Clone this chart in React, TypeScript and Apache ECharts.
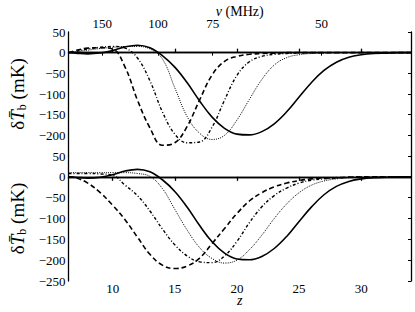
import React, { useEffect, useRef } from "react";
import * as echarts from "echarts";

// redshift sample points
const zGrid = [6.45, 7, 8, 9, 10, 11, 12, 13, 14, 15, 16, 17, 18, 19, 20, 21, 22, 23, 24, 25, 26, 27, 28, 29, 30, 31, 32, 33, 34];

// fiducial model (solid, both panels)
const solidVals = [0, -1, -3, -1, 5, 14, 18, 12, -7, -35, -73, -117, -156, -183, -197, -199, -191, -172, -143, -107, -72, -43, -23, -11, -5, -2, -1, 0, 0];

// top panel
const topDashed = [0, 5, 11, 12, 9, -35, -115, -182, -224, -218, -178, -114, -54, -21, -9, -4, -2, -1, 0, 0, 0, 0, 0, 0, 0, 0, 0, 0, 0];
const topDashDot = [0, 3, 9, 13, 15, 11, -13, -68, -143, -197, -218, -216, -180, -115, -55, -22, -9, -4, -2, -1, 0, 0, 0, 0, 0, 0, 0, 0, 0];
const topDotted = [0, 2, 6, 10, 13, 15, 15, 9, -15, -85, -155, -195, -210, -200, -163, -113, -65, -30, -12, -5, -2, -1, 0, 0, 0, 0, 0, 0, 0];

// bottom panel
const botDashed = [0, -2, -15, -38, -68, -103, -145, -186, -212, -220, -214, -195, -160, -124, -88, -58, -38, -24, -15, -9, -5, -3, -2, -1, 0, 0, 0, 0, 0];
const botDashDot = [8, 8, 8, 7, 4, -20, -45, -82, -125, -163, -190, -204, -206, -190, -155, -110, -72, -45, -27, -15, -8, -5, -3, -1, 0, 0, 0, 0, 0];
const botDotted = [10, 10, 10, 10, 10, 10, 8, 1, -28, -78, -128, -170, -196, -207, -200, -175, -140, -100, -65, -38, -20, -10, -5, -2, -1, 0, 0, 0, 0];

// axis ticks
const zTicks = [10, 15, 20, 25, 30];
const nuTicks = [150, 100, 75, 50];
const nuTickZ = [9.16, 13.65, 18.05, 26.8];
const zMin = 6.45;
const zMax = 34;

const FONT = "'Liberation Serif', 'Times New Roman', serif";

const pairs = (vals: number[]) => zGrid.map((z, i) => [z, vals[i]]);
const minus = (v: number) => String(v).replace("-", "\u2212");

export default function App() {
  const ref = useRef<HTMLDivElement>(null);
  useEffect(() => {
    const chart = echarts.init(ref.current!, null, { renderer: "svg" });
    const axLine = { show: true, lineStyle: { color: "#000", width: 1.3 } };
    const yName = "{g|\u03b4}{i|T\u0304}{s|b}{g| (mK)}";
    const yNameStyle = {
      fontFamily: FONT,
      fontSize: 19,
      color: "#000",
      rich: {
        g: { fontFamily: FONT, fontSize: 19, color: "#000" },
        i: { fontFamily: FONT, fontSize: 19, fontStyle: "italic", color: "#000" },
        s: { fontFamily: FONT, fontSize: 12, color: "#000", verticalAlign: "bottom", padding: [8, 0, 0, 0] },
      },
    };
    const mkY = (grid: number, hideBottom: boolean) => [
      {
        type: "value",
        gridIndex: grid,
        min: -250,
        max: 50,
        interval: 50,
        position: "left",
        axisLine: axLine,
        axisTick: { show: false },
        splitLine: { show: false },
        axisLabel: {
          color: "#000",
          fontFamily: FONT,
          fontSize: 13,
          margin: 3,
          formatter: (v: number) => (hideBottom && v === -250 ? "" : minus(v)),
        },
        name: yName,
        nameLocation: "middle",
        nameGap: 41,
        nameRotate: 90,
        nameMoveOverlap: false,
        nameTextStyle: yNameStyle,
      },
      {
        type: "value",
        gridIndex: grid,
        min: -250,
        max: 50,
        interval: 50,
        position: "right",
        axisLine: axLine,
        axisTick: { show: true, inside: true, length: 3, lineStyle: { color: "#000" } },
        splitLine: { show: false },
        axisLabel: { show: false },
      },
    ];
    const ser = (vals: number[], xi: number, yi: number, type: any, width: number) => ({
      type: "line",
      data: pairs(vals),
      xAxisIndex: xi,
      yAxisIndex: yi,
      showSymbol: false,
      symbol: "none",
      smooth: 0.4,
      lineStyle: { color: "#000", width, type },
    });
    const option: any = {
      animation: false,
      backgroundColor: "#fff",
      textStyle: { fontFamily: FONT },
      grid: [
        { left: 53, right: 4, top: 32, height: 124 },
        { left: 53, right: 4, top: 156, height: 125 },
      ],
      xAxis: [
        {
          type: "value",
          gridIndex: 0,
          min: zMin,
          max: zMax,
          position: "bottom",
          axisLine: axLine,
          splitLine: { show: false },
          axisTick: { show: true, inside: true, length: 4, customValues: zTicks, lineStyle: { color: "#000", width: 1.3 } },
          axisLabel: { show: false },
        },
        {
          type: "value",
          gridIndex: 0,
          min: zMin,
          max: zMax,
          position: "top",
          axisLine: axLine,
          splitLine: { show: false },
          axisTick: { show: true, inside: true, length: 3, customValues: nuTickZ, lineStyle: { color: "#000" } },
          axisLabel: {
            show: true,
            customValues: nuTickZ,
            color: "#000",
            fontFamily: FONT,
            fontSize: 13,
            margin: 2,
            formatter: (v: number) => {
              const i = nuTickZ.findIndex((t) => Math.abs(t - v) < 1e-6);
              return i >= 0 ? String(nuTicks[i]) : "";
            },
          },
          name: "{i|\u03bd} (MHz)",
          nameLocation: "middle",
          nameGap: 14,
          nameMoveOverlap: false,
          nameTextStyle: {
            fontFamily: FONT,
            fontSize: 14,
            color: "#000",
            rich: { i: { fontFamily: FONT, fontSize: 14, fontStyle: "italic", color: "#000" } },
          },
        },
        {
          type: "value",
          gridIndex: 1,
          min: zMin,
          max: zMax,
          position: "bottom",
          axisLine: axLine,
          splitLine: { show: false },
          axisTick: { show: false },
          axisLabel: {
            show: true,
            customValues: zTicks,
            color: "#000",
            fontFamily: FONT,
            fontSize: 13,
            lineHeight: 11,
            margin: 2,
          },
          name: "z",
          nameLocation: "middle",
          nameGap: 14,
          nameMoveOverlap: false,
          nameTextStyle: { fontFamily: FONT, fontSize: 14, lineHeight: 10, fontStyle: "italic", color: "#000" },
        },
        {
          type: "value",
          gridIndex: 1,
          min: zMin,
          max: zMax,
          position: "top",
          axisLine: axLine,
          splitLine: { show: false },
          axisTick: { show: true, inside: true, length: 4, customValues: zTicks, lineStyle: { color: "#000", width: 1.3 } },
          axisLabel: { show: false },
        },
      ],
      yAxis: [...mkY(0, true), ...mkY(1, false)],
      series: [
        ser(solidVals, 0, 0, "solid", 1.6),
        ser(topDashed, 0, 0, [5, 3], 1.6),
        ser(topDashDot, 0, 0, [3, 2, 1, 2], 1.4),
        ser(topDotted, 0, 0, [1, 1.2], 1),
        ser(solidVals, 2, 2, "solid", 1.6),
        ser(botDashed, 2, 2, [5, 3], 1.6),
        ser(botDashDot, 2, 2, [3, 2, 1, 2], 1.4),
        ser(botDotted, 2, 2, [1, 1.2], 1),
      ],
    };
    chart.setOption(option);
    return () => chart.dispose();
  }, []);
  return <div ref={ref} style={{ position: "fixed", left: 0, top: 0, width: 415, height: 312 }} />;
}
